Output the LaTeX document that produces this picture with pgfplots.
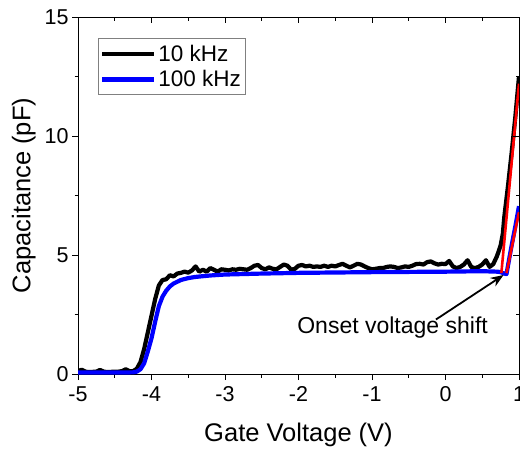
\documentclass[border=0pt]{standalone}
\usepackage{fontspec}
\setmainfont{Liberation Sans}
\usepackage{pgfplots}
\pgfplotsset{compat=1.18}
\usetikzlibrary{calc,arrows.meta}

\pgfplotsset{
  cvbox/.style={
    width=441pt, height=357pt, scale only axis,
    xmin=-5, xmax=1, ymin=0, ymax=15,
    xtick={-5,-4,...,1}, ytick={0,5,10,15},
    minor x tick num=1, minor y tick num=1,
    major tick length=6pt, minor tick length=3.5pt,
    axis line style={line width=1pt},
    every tick/.style={black, line width=1pt},
  }
}

\begin{document}
\begin{tikzpicture}
% main axis: ticks outward on left and bottom
\begin{axis}[cvbox,
  xtick pos=left, ytick pos=left, tick align=outside,
  /pgf/number format/assume math mode=true,
  tick label style={font=\fontsize{21.5}{24}\selectfont},
  xticklabel style={yshift=-3pt},
  xlabel={Gate Voltage (V)}, ylabel={Capacitance (pF)},
  label style={font=\fontsize{25.5}{28}\selectfont},
  xlabel style={yshift=-14pt},
  ylabel style={yshift=2pt},
  legend style={at={(rel axis cs:0.045,0.94)}, anchor=north west,
    draw=gray, line width=0.6pt, font=\fontsize{22.5}{26}\selectfont,
    inner xsep=2pt, inner ysep=4pt, row sep=4pt},
  legend cell align=left,
  legend image code/.code={\draw[#1] (0pt,0pt) -- (52pt,0pt);},
]
\addplot[black, line width=4.2pt, line join=round] coordinates {
(-5.00,0.12) (-4.95,0.18) (-4.90,0.10) (-4.85,0.08) (-4.80,0.09) (-4.75,0.10)
(-4.70,0.17) (-4.65,0.10) (-4.60,0.08) (-4.55,0.09) (-4.50,0.10) (-4.45,0.10)
(-4.40,0.12) (-4.35,0.20) (-4.30,0.12) (-4.25,0.12) (-4.20,0.22) (-4.15,0.50)
(-4.10,1.05) (-4.05,1.75) (-4.00,2.45) (-3.95,3.15) (-3.90,3.72) (-3.85,3.95)
(-3.80,3.98) (-3.75,4.15) (-3.70,4.10) (-3.65,4.22) (-3.60,4.25) (-3.55,4.30)
(-3.50,4.26) (-3.45,4.35) (-3.40,4.52) (-3.35,4.30) (-3.30,4.38) (-3.25,4.30)
(-3.20,4.45) (-3.15,4.38) (-3.10,4.30) (-3.05,4.40) (-3.00,4.38) (-2.95,4.35)
(-2.90,4.40) (-2.85,4.38) (-2.80,4.42) (-2.75,4.40) (-2.70,4.38) (-2.65,4.45)
(-2.60,4.55) (-2.55,4.58) (-2.50,4.45) (-2.45,4.40) (-2.40,4.48) (-2.35,4.42)
(-2.30,4.40) (-2.25,4.50) (-2.20,4.60) (-2.15,4.55) (-2.10,4.38) (-2.05,4.42)
(-2.00,4.55) (-1.95,4.58) (-1.90,4.52) (-1.85,4.55) (-1.80,4.50) (-1.75,4.52)
(-1.70,4.50) (-1.65,4.55) (-1.60,4.50) (-1.55,4.55) (-1.50,4.52) (-1.45,4.58)
(-1.40,4.63) (-1.35,4.55) (-1.30,4.48) (-1.25,4.55) (-1.20,4.63) (-1.15,4.60)
(-1.10,4.52) (-1.05,4.45) (-1.00,4.40) (-0.95,4.42) (-0.90,4.45) (-0.85,4.45)
(-0.80,4.50) (-0.75,4.52) (-0.70,4.50) (-0.65,4.45) (-0.60,4.48) (-0.55,4.52)
(-0.50,4.50) (-0.45,4.55) (-0.40,4.62) (-0.35,4.63) (-0.30,4.60) (-0.25,4.70)
(-0.20,4.73) (-0.15,4.65) (-0.10,4.60) (-0.05,4.63) (0.00,4.62) (0.05,4.75)
(0.10,4.52) (0.15,4.45) (0.20,4.50) (0.25,4.60) (0.30,4.78) (0.35,4.50)
(0.40,4.45) (0.45,4.50) (0.50,4.60) (0.55,4.78) (0.60,4.50) (0.65,4.62)
(0.70,4.95) (0.75,5.40) (0.78,5.90) (0.80,6.60) (0.85,7.90) (0.90,9.30)
(0.95,10.80) (1.00,12.50)
};
\addlegendentry{10 kHz}
\addplot[blue, line width=4.2pt, line join=round] coordinates {
(-5.00,0.06) (-4.80,0.06) (-4.60,0.06) (-4.40,0.06) (-4.25,0.07) (-4.20,0.10)
(-4.15,0.20) (-4.10,0.45) (-4.05,0.95) (-4.00,1.50) (-3.95,2.20) (-3.90,2.85)
(-3.85,3.25) (-3.80,3.50) (-3.75,3.68) (-3.70,3.80) (-3.60,3.95) (-3.50,4.03)
(-3.40,4.08) (-3.20,4.14) (-3.00,4.18) (-2.50,4.22) (-2.00,4.25) (-1.00,4.28)
(0.00,4.30) (0.50,4.32) (0.70,4.30) (0.75,4.28) (0.80,4.22) (0.83,4.20)
(0.87,4.90) (0.90,5.40) (0.95,6.20) (1.00,7.05)
};
\addlegendentry{100 kHz}
% tangent lines marking the onset
\addplot[red, line width=2.6pt, forget plot] coordinates {(0.76,4.24) (1.00,12.20)};
\addplot[red, line width=2.6pt, forget plot] coordinates {(0.83,4.24) (1.00,6.80)};
\draw[line width=1.8pt, -{Stealth[length=13pt,width=10pt]}]
  (axis cs:-0.13,2.29) -- (axis cs:0.79,4.16);
\node[font=\fontsize{23}{26}\selectfont] at (axis cs:-0.72,1.95) {Onset voltage shift};
\end{axis}
% mirrored ticks pointing inward on top and right
\begin{axis}[cvbox,
  xtick pos=right, ytick pos=right, tick align=inside,
  xticklabels={}, yticklabels={}, axis line style={draw=none},
]
\end{axis}
\pgfresetboundingbox
\path ($(current axis.south west)+(-78pt,-79pt)$) rectangle ($(current axis.north east)+(1pt,17pt)$);
\end{tikzpicture}
\end{document}
